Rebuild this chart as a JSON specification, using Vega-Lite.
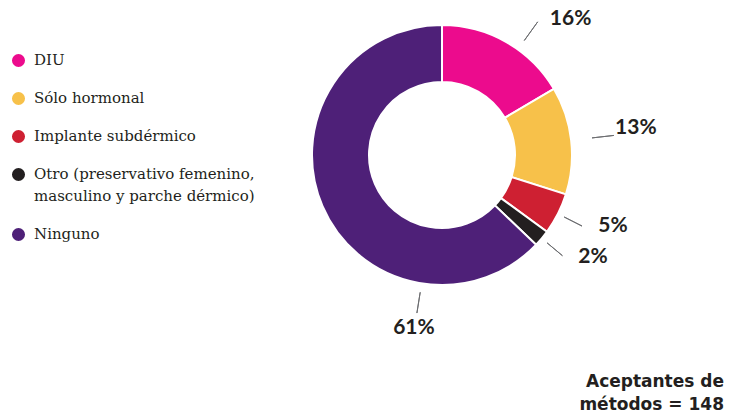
{
  "$schema": "https://vega.github.io/schema/vega-lite/v6.json",
  "width": 300,
  "height": 300,
  "autosize": {"type": "none"},
  "padding": {"left": 292, "top": 5, "right": 145, "bottom": 110},
  "background": "white",
  "config": {"view": {"stroke": null}},
  "title": {
    "text": ["Aceptantes de", "métodos = 148"],
    "orient": "bottom",
    "anchor": "end",
    "frame": "group",
    "align": "right",
    "font": "DejaVu Sans",
    "fontSize": 17,
    "fontWeight": "bold",
    "color": "#231F20",
    "lineHeight": 23,
    "baseline": "top",
    "offset": 0,
    "dx": 132,
    "dy": -10
  },
  "data": {
    "values": [
      {"cat": "DIU", "pct": 16, "lbl": "16%", "orden": 1},
      {"cat": "Sólo hormonal", "pct": 13, "lbl": "13%", "orden": 2},
      {"cat": "Implante subdérmico", "pct": 5, "lbl": "5%", "orden": 3},
      {"cat": "Otro (preservativo femenino, masculino y parche dérmico)", "pct": 2, "lbl": "2%", "orden": 4},
      {"cat": "Ninguno", "pct": 61, "lbl": "61%", "orden": 5}
    ]
  },
  "encoding": {
    "theta": {"field": "pct", "type": "quantitative", "stack": true},
    "order": {"field": "orden", "type": "quantitative"}
  },
  "layer": [
    {
      "mark": {"type": "arc", "innerRadius": 73, "outerRadius": 130, "stroke": "white", "strokeWidth": 2},
      "encoding": {
        "color": {
          "field": "cat",
          "type": "nominal",
          "scale": {
            "domain": ["DIU", "Sólo hormonal", "Implante subdérmico", "Otro (preservativo femenino, masculino y parche dérmico)", "Ninguno"],
            "range": ["#EC0B8D", "#F7C14A", "#CE2032", "#231F20", "#4E2078"]
          },
          "legend": {
            "orient": "none",
            "legendX": -281,
            "legendY": 48,
            "title": null,
            "padding": 0,
            "symbolType": "circle",
            "symbolSize": 170,
            "symbolStrokeWidth": 0,
            "labelFont": "DejaVu Serif",
            "labelFontSize": 15,
            "labelColor": "#231F20",
            "labelOffset": 8,
            "labelLimit": 400,
            "labelBaseline": "top",
            "rowPadding": 22,
            "labelExpr": "datum.label == 'Otro (preservativo femenino, masculino y parche dérmico)' ? ['Otro (preservativo femenino,', 'masculino y parche dérmico)'] : datum.label",
            "encoding": {"labels": {"dy": {"value": -8}, "lineHeight": {"value": 22}}}
          }
        }
      }
    },
    {
      "mark": {"type": "arc", "innerRadius": 137, "outerRadius": 157, "padAngle": 3.14, "filled": false, "stroke": "#6D6E71", "strokeWidth": 1},
      "encoding": {"strokeOpacity": {"condition": {"test": "datum.orden == 3 || datum.orden == 4", "value": 1}, "value": 0}}
    },
    {
      "mark": {"type": "arc", "innerRadius": 151, "outerRadius": 173, "padAngle": 3.14, "filled": false, "stroke": "#6D6E71", "strokeWidth": 1},
      "encoding": {"strokeOpacity": {"condition": {"test": "datum.orden == 2", "value": 1}, "value": 0}}
    },
    {
      "mark": {"type": "arc", "innerRadius": 141, "outerRadius": 164, "padAngle": 3.14, "thetaOffset": 0.105, "filled": false, "stroke": "#6D6E71", "strokeWidth": 1},
      "encoding": {"strokeOpacity": {"condition": {"test": "datum.orden == 1", "value": 1}, "value": 0}}
    },
    {
      "transform": [{"stack": "pct", "groupby": [], "sort": [{"field": "orden", "order": "ascending"}], "as": ["t0", "t1"]}],
      "mark": {"type": "arc", "innerRadius": 139, "outerRadius": 160, "thetaOffset": 0.967, "theta2Offset": -2.984, "filled": false, "stroke": "#6D6E71", "strokeWidth": 1},
      "encoding": {
        "theta": {"field": "t0", "type": "quantitative"},
        "theta2": {"field": "t1"},
        "strokeOpacity": {"condition": {"test": "datum.orden == 5", "value": 1}, "value": 0}
      }
    },
    {
      "mark": {"type": "text", "radius": 185, "dx": 37, "dy": 25, "font": "Lato", "fontSize": 21, "fontWeight": "bold", "color": "#231F20", "align": "center", "baseline": "middle"},
      "encoding": {"text": {"condition": {"test": "datum.orden == 1", "field": "lbl", "type": "nominal"}, "value": ""}}
    },
    {
      "mark": {"type": "text", "radius": 185, "dx": 10, "dy": -6, "font": "Lato", "fontSize": 21, "fontWeight": "bold", "color": "#231F20", "align": "center", "baseline": "middle"},
      "encoding": {"text": {"condition": {"test": "datum.orden == 2", "field": "lbl", "type": "nominal"}, "value": ""}}
    },
    {
      "mark": {"type": "text", "radius": 185, "dx": 6, "dy": -13, "font": "Lato", "fontSize": 21, "fontWeight": "bold", "color": "#231F20", "align": "center", "baseline": "middle"},
      "encoding": {"text": {"condition": {"test": "datum.orden == 3", "field": "lbl", "type": "nominal"}, "value": ""}}
    },
    {
      "mark": {"type": "text", "radius": 185, "dx": 9, "dy": -17, "font": "Lato", "fontSize": 21, "fontWeight": "bold", "color": "#231F20", "align": "center", "baseline": "middle"},
      "encoding": {"text": {"condition": {"test": "datum.orden == 4", "field": "lbl", "type": "nominal"}, "value": ""}}
    },
    {
      "mark": {"type": "text", "radius": 185, "dx": 142, "dy": 100, "font": "Lato", "fontSize": 21, "fontWeight": "bold", "color": "#231F20", "align": "center", "baseline": "middle"},
      "encoding": {"text": {"condition": {"test": "datum.orden == 5", "field": "lbl", "type": "nominal"}, "value": ""}}
    }
  ]
}
